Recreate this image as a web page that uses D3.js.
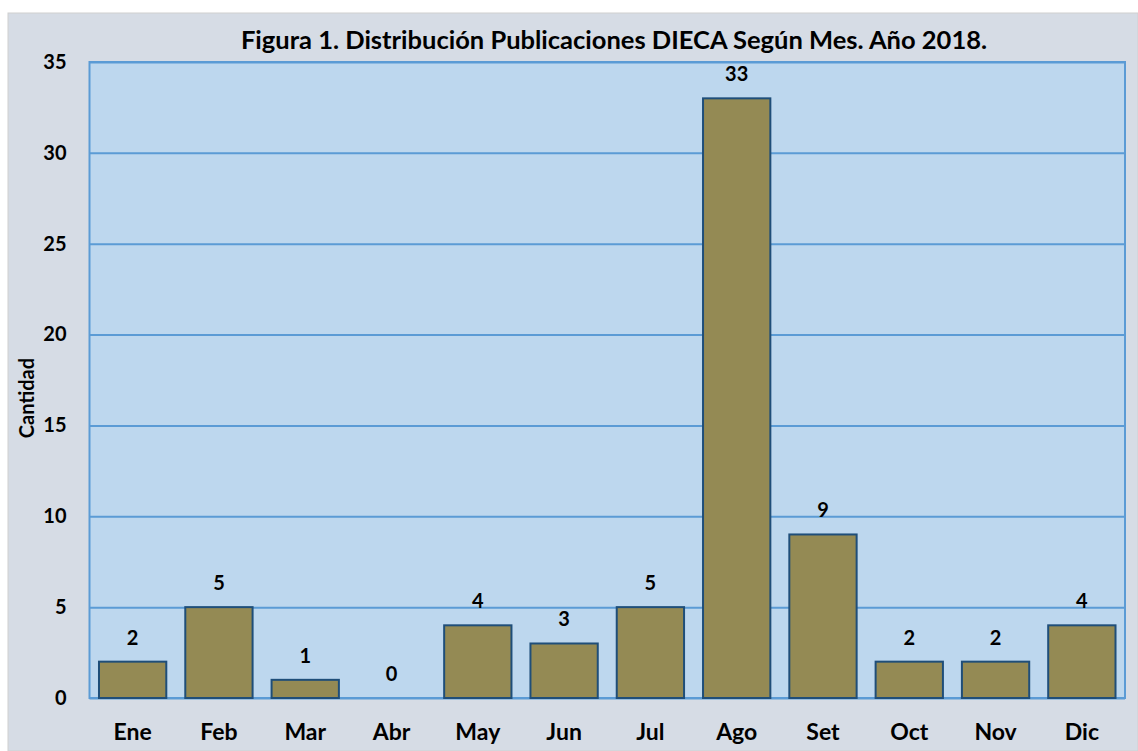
<!DOCTYPE html>
<html>
<head>
<meta charset="utf-8">
<script src="https://cdn.jsdelivr.net/npm/d3@7"></script>
<style>
	body { margin: 0; background: #fff; }
	text { font-family: Lato, "Liberation Sans", sans-serif; font-weight: bold; fill: #000; }
</style>
</head>
<body>
<div id="chart"></div>
<script>
var months = ["Ene", "Feb", "Mar", "Abr", "May", "Jun", "Jul", "Ago", "Set", "Oct", "Nov", "Dic"];
var counts = [2, 5, 1, 0, 4, 3, 5, 33, 9, 2, 2, 4];
var yTicks = [0, 5, 10, 15, 20, 25, 30, 35];

var titleText = "Figura 1. Distribución Publicaciones DIECA Según Mes. Año 2018.";
var yTitle = "Cantidad";

var width = 1138;
var height = 751;

var plot = {left: 89.5, right: 1125, top: 62, bottom: 698};

var bgColor = "#d6dce5";
var plotColor = "#bdd7ee";
var gridColor = "#5b9bd5";
var barColor = "#948a54";
var barStroke = "#1f4e79";

var data = months.map(function(m, i) {
	return {month: m, value: counts[i]};
});

/* Scale */
var xScale = d3.scaleBand()
	.domain(months)
	.range([plot.left, plot.right])
	.paddingInner(0.22)
	.paddingOuter(0.11);

var yScale = d3.scaleLinear()
	.domain([0, 35])
	.range([plot.bottom, plot.top]);

/* Add SVG */
var svg = d3.select("#chart").append("svg")
	.attr("width", width)
	.attr("height", height);

// chart area background
svg.append("rect")
	.attr("x", 8)
	.attr("y", 13)
	.attr("width", width - 8)
	.attr("height", height - 13)
	.attr("fill", bgColor)
	.attr("stroke", "#d0d0d0")
	.attr("stroke-width", 1);

// plot area
svg.append("rect")
	.attr("x", plot.left)
	.attr("y", plot.top)
	.attr("width", plot.right - plot.left)
	.attr("height", plot.bottom - plot.top)
	.attr("fill", plotColor);

/* Y axis + gridlines */
var yAxis = d3.axisLeft(yScale)
	.tickValues(yTicks)
	.tickSize(-(plot.right - plot.left))
	.tickPadding(23);

var yG = svg.append("g")
	.attr("class", "y axis")
	.attr("transform", `translate(${plot.left}, 0)`)
	.call(yAxis);

yG.select(".domain").remove();
yG.selectAll("line")
	.attr("stroke", gridColor)
	.attr("stroke-width", 2);
yG.selectAll("text")
	.style("font-size", "20px");

// plot border
svg.append("rect")
	.attr("x", plot.left)
	.attr("y", plot.top)
	.attr("width", plot.right - plot.left)
	.attr("height", plot.bottom - plot.top)
	.attr("fill", "none")
	.attr("stroke", gridColor)
	.attr("stroke-width", 2);

/* Bars */
svg.append("g")
	.attr("class", "bars")
	.selectAll("rect")
	.data(data).enter()
	.append("rect")
	.attr("x", d => xScale(d.month))
	.attr("y", d => yScale(d.value))
	.attr("width", xScale.bandwidth())
	.attr("height", d => yScale(0) - yScale(d.value))
	.attr("fill", barColor)
	.attr("stroke", barStroke)
	.attr("stroke-width", 2)
	.style("display", d => d.value > 0 ? null : "none");

/* Value labels */
svg.append("g")
	.attr("class", "labels")
	.selectAll("text")
	.data(data).enter()
	.append("text")
	.attr("x", d => xScale(d.month) + xScale.bandwidth() / 2)
	.attr("y", d => yScale(d.value) - 17)
	.attr("text-anchor", "middle")
	.style("font-size", "20px")
	.text(d => d.value);

/* X axis */
var xAxis = d3.axisBottom(xScale)
	.tickSize(0)
	.tickPadding(26);

var xG = svg.append("g")
	.attr("class", "x axis")
	.attr("transform", `translate(0, ${plot.bottom})`)
	.call(xAxis);

xG.select(".domain").remove();
xG.selectAll("text")
	.style("font-size", "23px");

/* Titles */
svg.append("text")
	.attr("x", 614)
	.attr("y", 49)
	.attr("text-anchor", "middle")
	.style("font-size", "25.5px")
	.text(titleText);

svg.append("text")
	.attr("transform", "translate(34, 398) rotate(-90)")
	.attr("text-anchor", "middle")
	.style("font-size", "20px")
	.text(yTitle);
</script>
</body>
</html>
